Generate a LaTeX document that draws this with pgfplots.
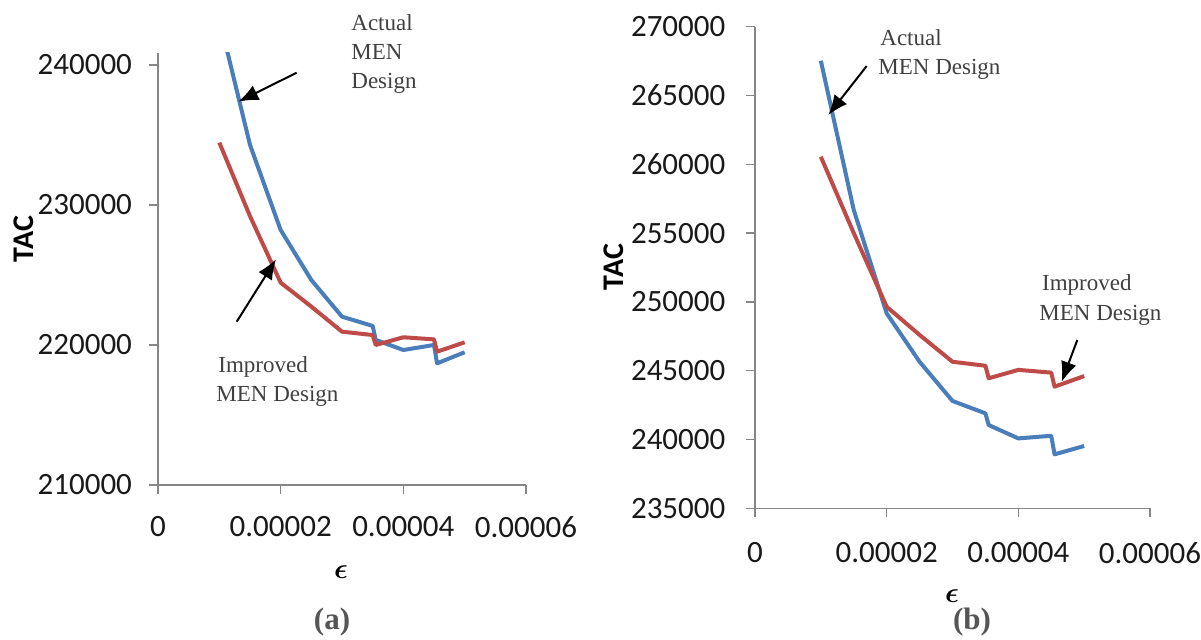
\documentclass[border=0pt]{standalone}
\usepackage{bm}
\usepackage{fontspec}
\setmainfont{Liberation Serif}
\newfontfamily\tickfont{Carlito}
\usepackage{pgfplots}
\pgfplotsset{compat=1.18}
\usetikzlibrary{arrows.meta}
\definecolor{sblue}{HTML}{4A7EBB}
\definecolor{sred}{HTML}{BE4B48}
\definecolor{axgray}{HTML}{868686}
\definecolor{txtgray}{HTML}{404040}
\definecolor{capgray}{HTML}{555555}

\pgfplotsset{excel/.style={
  scale only axis,
  axis x line=bottom, axis y line=left,
  axis line style={-, draw=axgray, line width=0.75pt},
  tick align=outside,
  major tick length=4.5pt,
  every tick/.style={draw=axgray, line width=0.75pt},
  scaled x ticks=false, scaled y ticks=false,
  xmin=0, xmax=0.00006,
  xtick={0,0.00002,0.00004,0.00006},
  xticklabels={0,0.00002,0.00004,0.00006},
  tick label style={font=\tickfont\fontsize{15.5}{17}\selectfont, text=black!90},
  clip=true,
  every axis plot/.append style={line width=2pt, line join=round},
}}

\begin{document}
\begin{tikzpicture}
\path[use as bounding box] (0,0) rectangle (600.5pt,319.5pt);

% ---------- (a) ----------
\begin{axis}[excel, at={(79pt,77pt)}, anchor=south west,
  width=184pt, height=216pt,
  ymin=210000, ymax=240850,
  ytick={210000,220000,230000,240000},
  yticklabels={210000,220000,230000,240000},
  xticklabel style={yshift=-7.5pt},
  yticklabel style={xshift=-5pt}]
\addplot[sblue] coordinates {
 (0.00001,243300) (0.000015,234290) (0.00002,228210) (0.000025,224640)
 (0.00003,222020) (0.000035,221360) (0.0000355,220360) (0.00004,219640)
 (0.000045,220000) (0.0000455,218690) (0.00005,219480)};
\addplot[sred] coordinates {
 (0.00001,234450) (0.000015,229200) (0.00002,224450) (0.000025,222740)
 (0.00003,220950) (0.000035,220710) (0.0000355,220000) (0.00004,220550)
 (0.000045,220400) (0.0000455,219520) (0.00005,220190)};
\end{axis}

% ---------- (b) ----------
\begin{axis}[excel, at={(377.5pt,65.35pt)}, anchor=south west,
  width=197.5pt, height=240.8pt,
  ymin=235000, ymax=270000,
  ytick={235000,240000,245000,250000,255000,260000,265000,270000},
  yticklabels={235000,240000,245000,250000,255000,260000,265000,270000},
  xticklabel style={yshift=-9pt},
  yticklabel style={xshift=-6.8pt}]
\addplot[sblue] coordinates {
 (0.00001,267530) (0.000015,256680) (0.00002,249170) (0.000025,245650)
 (0.00003,242800) (0.000035,241900) (0.0000355,241050) (0.00004,240080)
 (0.000045,240270) (0.0000455,238920) (0.00005,239530)};
\addplot[sred] coordinates {
 (0.00001,260550) (0.000015,255000) (0.00002,249650) (0.000025,247600)
 (0.00003,245650) (0.000035,245360) (0.0000355,244450) (0.00004,245060)
 (0.000045,244860) (0.0000455,243840) (0.00005,244610)};
\end{axis}

% axis titles
\node[rotate=90, font=\tickfont\bfseries\fontsize{15}{17}\selectfont] at (12pt,200pt) {TAC};
\node[rotate=90, font=\tickfont\bfseries\fontsize{15}{17}\selectfont] at (307pt,186pt) {TAC};
\node[font=\fontsize{15}{17}\selectfont] at (170.5pt,33.25pt) {$\bm{\epsilon}$};
\node[font=\fontsize{15}{17}\selectfont] at (476pt,21.5pt) {$\bm{\epsilon}$};

% captions
\node[font=\bfseries\fontsize{15.5}{17}\selectfont, text=capgray] at (166pt,8.5pt) {(a)};
\node[font=\bfseries\fontsize{15.5}{17}\selectfont, text=capgray] at (486pt,8.5pt) {(b)};

% annotations
\begin{scope}[every node/.style={anchor=base west, inner sep=0pt, text=txtgray, font=\fontsize{11.5}{13}\selectfont}]
\node at (175.5pt,304pt) {Actual};
\node at (175.5pt,289.5pt) {MEN};
\node at (175.5pt,275pt) {Design};
\node at (109pt,133.5pt) {Improved};
\node at (108pt,119pt) {MEN Design};
\node at (440pt,296.5pt) {Actual};
\node at (439pt,282pt) {MEN Design};
\node at (520.85pt,174.5pt) {Improved};
\node at (519.5pt,159.5pt) {MEN Design};
\end{scope}

\begin{scope}[line width=1pt, -{Latex[length=10pt,width=8pt]}]
\draw (148.35pt,283.15pt) -- (119.15pt,268.65pt);
\draw (118.35pt,158.65pt) -- (138pt,189.85pt);
\draw (433.35pt,286.5pt) -- (414.15pt,262pt);
\draw (538.65pt,149.5pt) -- (530.85pt,128.65pt);
\end{scope}
\end{tikzpicture}
\end{document}
